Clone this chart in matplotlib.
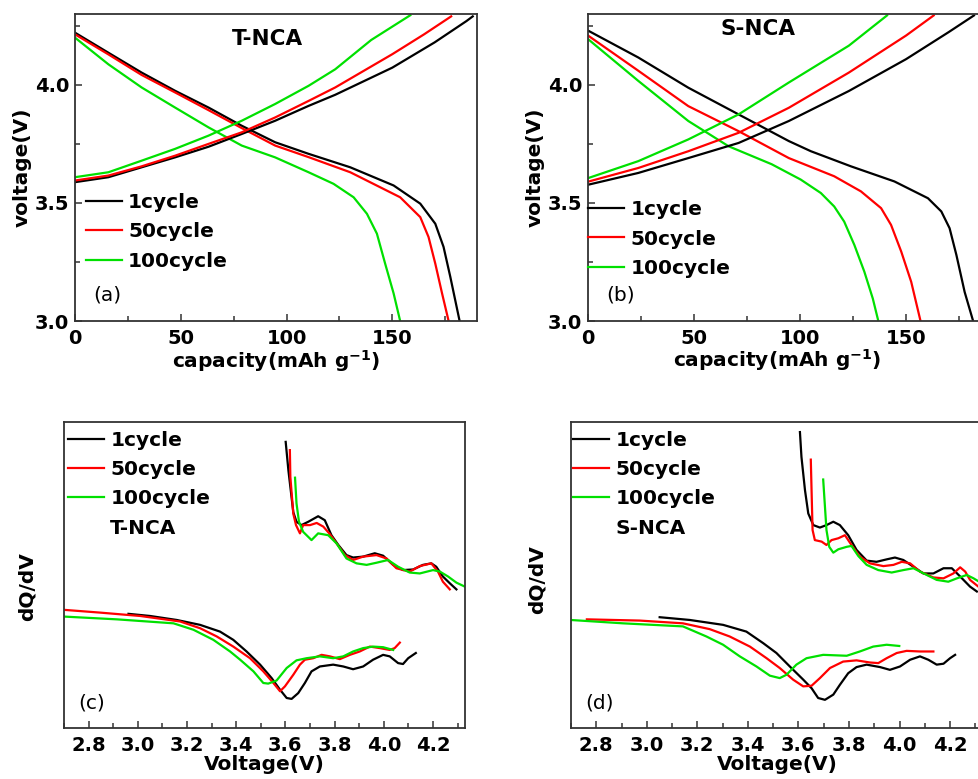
import numpy as np
import matplotlib
matplotlib.use("Agg")
from matplotlib import pyplot as plt
from matplotlib.lines import Line2D
from matplotlib.ticker import MultipleLocator, FormatStrFormatter

plt.rcParams["font.family"] = ["DejaVu Sans"]
plt.rcParams["font.weight"] = "bold"
plt.rcParams["axes.labelweight"] = "bold"

labels = ["1cycle", "50cycle", "100cycle"]
colors = ["black", "#ff0000", "#00e000"]

# (a) T-NCA charge/discharge, capacity (mAh/g) vs voltage (V)
a_cap_dis_1 = [0, 15.8, 31.5, 47.3, 63.1, 78.8, 94.6, 110.4, 130.1, 150.6, 163.2, 170.3, 174.2, 177.4, 181.8]
a_v_dis_1 = [4.221, 4.136, 4.052, 3.975, 3.904, 3.827, 3.757, 3.708, 3.651, 3.574, 3.497, 3.412, 3.314, 3.187, 3.0]
a_cap_dis_50 = [0, 15.8, 31.5, 47.3, 63.1, 78.8, 94.6, 110.4, 130.1, 153.7, 163.2, 167.1, 170.3, 173.5, 176.6]
a_v_dis_50 = [4.214, 4.129, 4.042, 3.968, 3.893, 3.817, 3.743, 3.694, 3.63, 3.524, 3.44, 3.356, 3.243, 3.117, 3.0]
a_cap_dis_100 = [0, 15.8, 31.5, 47.3, 63.1, 78.8, 94.6, 110.4, 122.2, 131.7, 138, 142.7, 146.6, 150.6, 153.7]
a_v_dis_100 = [4.2, 4.087, 3.989, 3.904, 3.82, 3.743, 3.693, 3.63, 3.581, 3.524, 3.454, 3.37, 3.243, 3.117, 3.0]
a_cap_chg_1 = [0, 15.8, 31.5, 47.3, 63.1, 78.8, 94.6, 110.4, 123, 150, 170, 185, 188]
a_v_chg_1 = [3.588, 3.609, 3.651, 3.693, 3.738, 3.792, 3.848, 3.911, 3.958, 4.073, 4.18, 4.27, 4.29]
a_cap_chg_50 = [0, 15.8, 31.5, 47.3, 63.1, 78.8, 94.6, 110.4, 123, 150, 165, 177.8]
a_v_chg_50 = [3.595, 3.616, 3.655, 3.70, 3.75, 3.799, 3.862, 3.932, 3.989, 4.13, 4.214, 4.29]
a_cap_chg_100 = [0, 15.8, 31.5, 47.3, 63.1, 78.8, 94.6, 110.4, 123, 140, 158.5]
a_v_chg_100 = [3.609, 3.63, 3.679, 3.729, 3.785, 3.848, 3.919, 3.996, 4.066, 4.19, 4.295]

# (b) S-NCA charge/discharge
b_cap_dis_1 = [0, 23.7, 47.3, 71, 94.7, 105.1, 124, 144.5, 160.3, 166.6, 170.5, 173.7, 177.6, 181.6]
b_v_dis_1 = [4.23, 4.116, 3.988, 3.875, 3.762, 3.719, 3.655, 3.591, 3.52, 3.464, 3.393, 3.28, 3.123, 3.0]
b_cap_dis_50 = [0, 23.7, 47.3, 71, 94.7, 116.1, 128.7, 138.2, 142.9, 147.7, 152.4, 156.8]
b_v_dis_50 = [4.209, 4.06, 3.91, 3.804, 3.69, 3.613, 3.549, 3.478, 3.407, 3.294, 3.166, 3.0]
b_cap_dis_100 = [0, 23.7, 47.3, 66.3, 86.6, 100.3, 109.8, 116.1, 120.8, 125.6, 130.3, 134.3, 136.9]
b_v_dis_100 = [4.194, 4.017, 3.847, 3.74, 3.664, 3.599, 3.542, 3.485, 3.421, 3.322, 3.209, 3.095, 3.0]
b_cap_chg_1 = [0, 23.7, 47.3, 71, 94.7, 123, 150, 170, 182]
b_v_chg_1 = [3.577, 3.627, 3.69, 3.754, 3.847, 3.974, 4.109, 4.223, 4.294]
b_cap_chg_50 = [0, 23.7, 47.3, 71, 94.7, 123, 150, 163]
b_v_chg_50 = [3.59, 3.648, 3.719, 3.797, 3.903, 4.052, 4.209, 4.294]
b_cap_chg_100 = [0, 23.7, 47.3, 71, 94.7, 123, 141]
b_v_chg_100 = [3.605, 3.677, 3.769, 3.875, 4.01, 4.166, 4.294]

# (c) T-NCA dQ/dV (arbitrary units), charge branch (up) and discharge branch (dn)
c_up_v_1 = [3.601, 3.612, 3.632, 3.645, 3.665, 3.693, 3.733, 3.760, 3.787, 3.815, 3.848, 3.875, 3.916, 3.963, 3.997, 4.038, 4.078, 4.119, 4.159, 4.193, 4.213, 4.24, 4.268, 4.295]
c_up_y_1 = [93.5, 84.2, 70.5, 67.4, 66.3, 67.4, 69.2, 67.9, 63.0, 59.8, 56.5, 55.7, 56.0, 57.1, 56.3, 53.3, 51.6, 51.8, 53.3, 53.8, 52.7, 49.5, 47.3, 45.3]
c_up_v_50 = [3.618, 3.620, 3.632, 3.643, 3.659, 3.672, 3.700, 3.727, 3.754, 3.780, 3.808, 3.842, 3.875, 3.916, 3.970, 4.011, 4.051, 4.105, 4.146, 4.193, 4.220, 4.240, 4.268]
c_up_y_50 = [90.8, 82.0, 70.0, 66.3, 63.6, 66.3, 66.3, 67.0, 65.8, 63.4, 60.3, 56.5, 54.9, 56.0, 56.5, 55.4, 52.2, 51.1, 52.9, 53.8, 51.1, 47.8, 45.3]
c_up_v_100 = [3.639, 3.645, 3.655, 3.672, 3.706, 3.733, 3.774, 3.808, 3.848, 3.889, 3.930, 3.970, 4.017, 4.058, 4.105, 4.146, 4.200, 4.228, 4.261, 4.295, 4.329]
c_up_y_100 = [81.8, 73.4, 67.4, 64.1, 61.4, 63.6, 63.0, 60.3, 55.4, 53.8, 53.3, 54.0, 54.9, 52.7, 50.8, 50.5, 51.6, 51.1, 49.5, 47.5, 46.2]
c_dn_v_1 = [2.962, 3.05, 3.158, 3.253, 3.334, 3.388, 3.442, 3.497, 3.544, 3.578, 3.605, 3.625, 3.652, 3.679, 3.706, 3.74, 3.794, 3.835, 3.875, 3.916, 3.956, 3.997, 4.024, 4.058, 4.078, 4.099, 4.13]
c_dn_y_1 = [37.3, 36.6, 35.3, 33.7, 31.5, 28.8, 25.0, 20.7, 16.3, 12.5, 9.8, 9.5, 11.4, 14.7, 18.5, 20.1, 20.7, 20.1, 19.2, 20.1, 22.3, 23.9, 23.4, 21.2, 20.9, 22.8, 24.5]
c_dn_v_50 = [2.701, 2.847, 3.01, 3.172, 3.253, 3.321, 3.388, 3.456, 3.51, 3.551, 3.578, 3.598, 3.632, 3.659, 3.679, 3.713, 3.747, 3.781, 3.821, 3.862, 3.902, 3.943, 3.984, 4.024, 4.044, 4.065]
c_dn_y_50 = [38.6, 37.7, 36.6, 34.8, 32.6, 29.9, 26.6, 22.8, 18.5, 14.7, 12.0, 13.6, 17.4, 20.7, 22.3, 22.8, 23.9, 23.4, 22.5, 23.9, 25.0, 26.6, 26.1, 25.5, 26.1, 27.9]
c_dn_v_100 = [2.701, 2.915, 3.145, 3.226, 3.307, 3.375, 3.416, 3.47, 3.51, 3.53, 3.564, 3.605, 3.645, 3.686, 3.74, 3.794, 3.835, 3.875, 3.916, 3.956, 3.997, 4.038]
c_dn_y_100 = [36.4, 35.5, 34.2, 32.1, 28.8, 25.0, 22.3, 18.5, 14.7, 14.5, 15.5, 19.6, 22.1, 22.8, 23.4, 22.8, 23.4, 25.0, 26.1, 26.6, 26.4, 25.5]

# (d) S-NCA dQ/dV
d_up_v_1 = [3.606, 3.612, 3.626, 3.639, 3.659, 3.685, 3.711, 3.738, 3.764, 3.797, 3.83, 3.87, 3.909, 3.949, 3.982, 4.015, 4.055, 4.094, 4.134, 4.174, 4.207, 4.24, 4.279, 4.306]
d_up_y_1 = [96.7, 88.6, 77.7, 70.1, 66.3, 65.5, 66.3, 67.4, 66.3, 63.0, 58.2, 54.7, 54.3, 55.1, 55.7, 54.9, 52.7, 50.5, 50.5, 52.2, 52.2, 49.5, 46.2, 44.6]
d_up_v_50 = [3.649, 3.652, 3.656, 3.665, 3.692, 3.711, 3.731, 3.758, 3.784, 3.81, 3.843, 3.883, 3.936, 3.976, 4.009, 4.042, 4.081, 4.134, 4.174, 4.213, 4.24, 4.26, 4.279, 4.312]
d_up_y_50 = [87.7, 77.7, 64.7, 61.4, 60.9, 59.8, 61.4, 62.0, 63.0, 59.8, 56.0, 53.8, 52.9, 53.3, 54.3, 53.8, 51.1, 49.2, 48.9, 50.5, 52.5, 51.1, 48.4, 46.2]
d_up_v_100 = [3.698, 3.705, 3.711, 3.722, 3.738, 3.758, 3.791, 3.81, 3.837, 3.87, 3.916, 3.969, 4.015, 4.055, 4.108, 4.147, 4.193, 4.227, 4.266, 4.293, 4.315]
d_up_y_100 = [81.2, 72.3, 64.7, 59.2, 57.3, 58.4, 59.2, 59.5, 56.2, 53.3, 51.6, 50.8, 51.6, 52.2, 50.0, 48.4, 47.8, 48.9, 50.0, 48.9, 47.8]
d_dn_v_1 = [3.051, 3.17, 3.302, 3.394, 3.461, 3.513, 3.566, 3.619, 3.652, 3.678, 3.705, 3.738, 3.764, 3.797, 3.83, 3.87, 3.923, 3.962, 4.002, 4.042, 4.081, 4.114, 4.147, 4.174, 4.2, 4.22]
d_dn_y_1 = [36.2, 35.3, 33.7, 31.5, 27.7, 24.5, 20.1, 15.8, 13.0, 9.8, 9.2, 10.9, 14.1, 17.9, 19.9, 20.7, 19.9, 19.0, 20.1, 22.3, 23.4, 22.3, 20.7, 21.0, 22.8, 23.9]
d_dn_v_50 = [2.763, 2.972, 3.143, 3.249, 3.328, 3.408, 3.474, 3.526, 3.579, 3.619, 3.652, 3.685, 3.725, 3.777, 3.83, 3.883, 3.916, 3.949, 3.989, 4.028, 4.081, 4.134]
d_dn_y_50 = [35.5, 35.1, 34.2, 32.3, 29.9, 26.6, 22.8, 19.6, 15.8, 13.6, 13.8, 16.3, 19.6, 21.7, 22.1, 21.4, 21.2, 22.8, 24.5, 25.2, 25.0, 25.0]
d_dn_v_100 = [2.698, 2.906, 3.143, 3.236, 3.302, 3.368, 3.434, 3.487, 3.526, 3.553, 3.592, 3.632, 3.698, 3.791, 3.843, 3.896, 3.949, 3.999]
d_dn_y_100 = [35.3, 34.2, 33.2, 29.9, 27.2, 23.4, 20.1, 17.1, 16.3, 17.4, 20.7, 22.8, 23.9, 23.6, 25.0, 26.6, 27.2, 26.8]

TICK = 14
LAB = 14.5
LW = 1.6


def frame(ax):
    for s in ax.spines.values():
        s.set_linewidth(1.3)
        s.set_color("#333333")
    ax.tick_params(which="both", direction="in", top=False, right=False,
                   labelsize=TICK, width=1.1, color="#333333")
    ax.tick_params(which="major", length=5)
    ax.tick_params(which="minor", length=3.5)
    ax.tick_params(axis="x", pad=6)
    ax.tick_params(axis="y", pad=4)


def add_legend(ax, handles, anchor):
    ax.legend(handles=handles, loc="upper left", bbox_to_anchor=anchor,
              frameon=False, borderpad=0, borderaxespad=0,
              handlelength=1.8, handletextpad=0.3, labelspacing=0.52,
              prop={"weight": "bold", "size": LAB})


def capacity_panel(ax, dis, chg, title, title_xy, letter, leg_xy):
    lines = []
    for (x, y), c, lab in zip(dis, colors, labels):
        ln, = ax.plot(x, y, color=c, lw=LW, label=lab)
        lines.append(ln)
    for (x, y), c in zip(chg, colors):
        ax.plot(x, y, color=c, lw=LW)
    ax.set_xlim(0, 190)
    ax.set_ylim(3.0, 4.3)
    ax.xaxis.set_major_locator(MultipleLocator(50))
    ax.xaxis.set_minor_locator(MultipleLocator(25))
    ax.yaxis.set_major_locator(MultipleLocator(0.5))
    ax.yaxis.set_minor_locator(MultipleLocator(0.25))
    ax.yaxis.set_major_formatter(FormatStrFormatter("%.1f"))
    frame(ax)
    ax.set_xlabel("capacity(mAh g$^{\\mathbf{-1}}$)", fontsize=LAB, labelpad=0)
    ax.set_ylabel("voltage(V)", fontsize=LAB, labelpad=2)
    ax.text(title_xy[0], title_xy[1], title, transform=ax.transAxes,
            fontsize=15.5, ha="center", va="center")
    ax.text(0.045, 0.085, letter, transform=ax.transAxes, fontsize=LAB,
            fontweight="normal", va="center")
    add_legend(ax, lines, leg_xy)


def dqdv_panel(ax, up, dn, name, letter, leg_xy, ylab_xy):
    lines = []
    for (x, y), c, lab in zip(up, colors, labels):
        ln, = ax.plot(x, y, color=c, lw=LW, label=lab)
        lines.append(ln)
    for (x, y), c in zip(dn, colors):
        ax.plot(x, y, color=c, lw=LW)
    ax.set_xlim(2.7, 4.33)
    ax.set_ylim(0, 100)
    ax.xaxis.set_major_locator(MultipleLocator(0.2))
    ax.xaxis.set_minor_locator(MultipleLocator(0.1))
    ax.xaxis.set_major_formatter(FormatStrFormatter("%.1f"))
    ax.set_yticks([])
    frame(ax)
    ax.set_xlabel("Voltage(V)", fontsize=LAB, labelpad=0)
    ax.set_ylabel("dQ/dV", fontsize=LAB)
    ax.yaxis.set_label_coords(*ylab_xy)
    ax.text(0.035, 0.082, letter, transform=ax.transAxes, fontsize=LAB,
            fontweight="normal", va="center")
    extra = Line2D([], [], color="none", label=name)
    add_legend(ax, lines + [extra], leg_xy)


fig = plt.figure(figsize=(9.79, 7.79), dpi=100)
ax_a = fig.add_axes([0.0766, 0.5879, 0.4106, 0.3941])
ax_b = fig.add_axes([0.6006, 0.5879, 0.4116, 0.3941])
ax_c = fig.add_axes([0.0654, 0.0655, 0.4096, 0.3928])
ax_d = fig.add_axes([0.5832, 0.0655, 0.4208, 0.3928])

capacity_panel(ax_a,
               [(a_cap_dis_1, a_v_dis_1), (a_cap_dis_50, a_v_dis_50), (a_cap_dis_100, a_v_dis_100)],
               [(a_cap_chg_1, a_v_chg_1), (a_cap_chg_50, a_v_chg_50), (a_cap_chg_100, a_v_chg_100)],
               "T-NCA", (0.478, 0.919), "(a)", (0.027, 0.417))
capacity_panel(ax_b,
               [(b_cap_dis_1, b_v_dis_1), (b_cap_dis_50, b_v_dis_50), (b_cap_dis_100, b_v_dis_100)],
               [(b_cap_chg_1, b_v_chg_1), (b_cap_chg_50, b_v_chg_50), (b_cap_chg_100, b_v_chg_100)],
               "S-NCA", (0.423, 0.951), "(b)", (0.0, 0.394))
ax_b.xaxis.set_label_coords(0.47, -0.085)

dqdv_panel(ax_c,
           [(c_up_v_1, c_up_y_1), (c_up_v_50, c_up_y_50), (c_up_v_100, c_up_y_100)],
           [(c_dn_v_1, c_dn_y_1), (c_dn_v_50, c_dn_y_50), (c_dn_v_100, c_dn_y_100)],
           "T-NCA", "(c)", (0.01, 0.972), (-0.068, 0.461))
dqdv_panel(ax_d,
           [(d_up_v_1, d_up_y_1), (d_up_v_50, d_up_y_50), (d_up_v_100, d_up_y_100)],
           [(d_dn_v_1, d_dn_y_1), (d_dn_v_50, d_dn_y_50), (d_dn_v_100, d_dn_y_100)],
           "S-NCA", "(d)", (0.005, 0.972), (-0.059, 0.484))

fig.savefig("out.png", dpi=100)
